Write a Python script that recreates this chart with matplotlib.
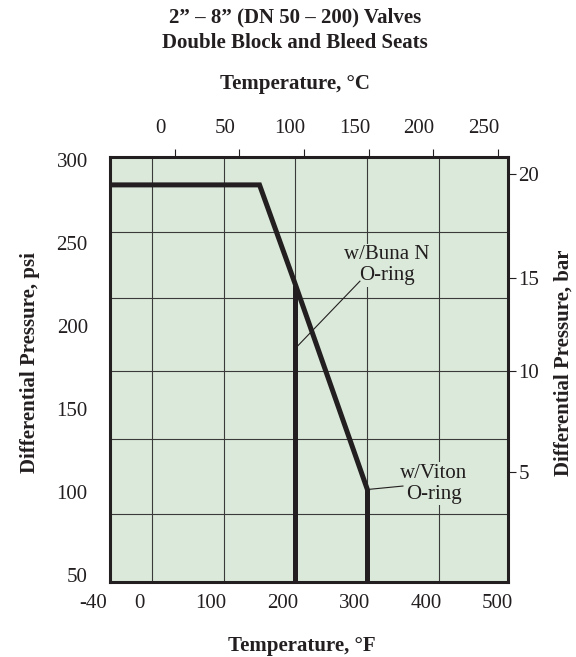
import matplotlib
matplotlib.use("Agg")
import matplotlib.pyplot as plt
from matplotlib.ticker import FixedLocator, FixedFormatter
from matplotlib.transforms import ScaledTranslation

plt.rcParams['font.family'] = ['Liberation Serif', 'DejaVu Serif']

# Pressure-temperature envelope (deg F, psi)
env_temp_f = [-58, 150, 200, 300]
env_psi = [285, 285, 225, 102]

# seat limits
buna_temp_f = 200
buna_top_psi = 225
viton_temp_f = 300
viton_top_psi = 102

# axis labels
f_labels = [-40, 0, 100, 200, 300, 400, 500]
psi_labels = [50, 100, 150, 200, 250, 300]
c_labels = [0, 50, 100, 150, 200, 250]
bar_labels = ['20', '15', '10', '5']
bar_pos_psi = [291.5, 229, 173, 112]

# grid as drawn on the original sheet
grid_f = [0, 100, 200, 300, 400]
grid_psi = [256.6, 216.9, 172.9, 131.9, 86.7]

BG = '#dae9d9'
INK = '#231f20'
FS = 15

XLIM = (-58.5, 496.5)
YLIM = (45.8, 301.8)


def f2c(f):
    return (f - 32) * 5 / 9


def c2f(c):
    return c * 9 / 5 + 32


fig = plt.figure(figsize=(5.76, 6.57), dpi=100)
ax = fig.add_axes([110 / 576, 1 - 582 / 657, 398 / 576, 425 / 657])
ax.set_facecolor(BG)
ax.set_xlim(*XLIM)
ax.set_ylim(*YLIM)

for s in ax.spines.values():
    s.set_linewidth(2.2)
    s.set_color(INK)
    s.set_zorder(5)

# grid
for g in grid_f:
    ax.axvline(g, color='#3a3a3a', lw=0.8, zorder=1)
for g in grid_psi:
    ax.axhline(g, color='#3a3a3a', lw=0.8, zorder=1)

# curves
ax.plot(env_temp_f, env_psi, color=INK, lw=3.6, solid_joinstyle='miter', zorder=3)
ax.plot([buna_temp_f, buna_temp_f], [YLIM[0], buna_top_psi], color=INK, lw=3.6,
        solid_capstyle='butt', zorder=3)
ax.plot([viton_temp_f, viton_temp_f], [YLIM[0], viton_top_psi], color=INK, lw=3.6,
        solid_capstyle='butt', zorder=3)

# left ticks (psi)
ax.set_yticks(psi_labels)
ax.tick_params(axis='y', length=0, pad=16, labelsize=FS, colors=INK)
ax.set_xticks([])

# bottom labels sit a bit left of the grid lines, like the original
for v in f_labels:
    if v == f_labels[0]:
        ax.annotate(str(v), xy=(XLIM[0], 0), xycoords=('data', 'axes fraction'),
                    xytext=(-3, -21), textcoords='offset pixels',
                    ha='right', va='center', fontsize=FS, color=INK)
    else:
        ax.annotate(str(v), xy=(v, 0), xycoords=('data', 'axes fraction'),
                    xytext=(-13, -21), textcoords='offset pixels',
                    ha='center', va='center', fontsize=FS, color=INK)

# top axis in deg C
top = ax.secondary_xaxis('top', functions=(f2c, c2f))
top.set_xticks(c_labels)
top.tick_params(axis='x', length=6, width=0.8, pad=8, labelsize=FS, colors=INK)
top.spines['top'].set_visible(False)
shift = ScaledTranslation(-14 / 100, 0, fig.dpi_scale_trans)
for lab in top.get_xticklabels():
    lab.set_transform(lab.get_transform() + shift)

# right axis in bar
right = ax.secondary_yaxis('right')
right.yaxis.set_major_locator(FixedLocator(bar_pos_psi))
right.yaxis.set_major_formatter(FixedFormatter(bar_labels))
right.tick_params(axis='y', length=6, width=0.8, pad=1.5, labelsize=FS, colors=INK)
right.spines['right'].set_visible(False)

# annotations
lbl_box = dict(facecolor=BG, edgecolor='none', pad=1)
ax.text(328, 236.5, 'w/Buna N\nO-ring', ha='center', va='center', fontsize=FS,
        color=INK, linespacing=1.15, bbox=lbl_box, zorder=4)
ax.plot([201, 290], [187, 227], color=INK, lw=0.8, zorder=4)
ax.text(393, 105, 'w/Viton\nO-ring', ha='center', va='center', fontsize=FS,
        color=INK, linespacing=1.15, bbox=lbl_box, zorder=4)
ax.plot([300, 350], [101.5, 103.6], color=INK, lw=0.8, zorder=4)

# titles and axis titles
fig.text(295 / 576, 1 - 17 / 657, '2\u201d \u2013 8\u201d (DN 50 \u2013 200) Valves',
         ha='center', va='center', fontsize=FS, fontweight='bold', color=INK)
fig.text(295 / 576, 1 - 43 / 657, 'Double Block and Bleed Seats',
         ha='center', va='center', fontsize=FS, fontweight='bold', color=INK)
fig.text(295 / 576, 1 - 84 / 657, 'Temperature, \u00b0C',
         ha='center', va='center', fontsize=FS, fontweight='bold', color=INK)
fig.text(302 / 576, 1 - 646 / 657, 'Temperature, \u00b0F',
         ha='center', va='center', fontsize=FS, fontweight='bold', color=INK)
fig.text(30 / 576, 1 - 363 / 657, 'Differential Pressure, psi', rotation=90,
         ha='center', va='center', fontsize=FS, fontweight='bold', color=INK)
fig.text(564 / 576, 1 - 363 / 657, 'Differential Pressure, bar', rotation=90,
         ha='center', va='center', fontsize=FS, fontweight='bold', color=INK)

fig.savefig('out.png', dpi=100, facecolor='white')
